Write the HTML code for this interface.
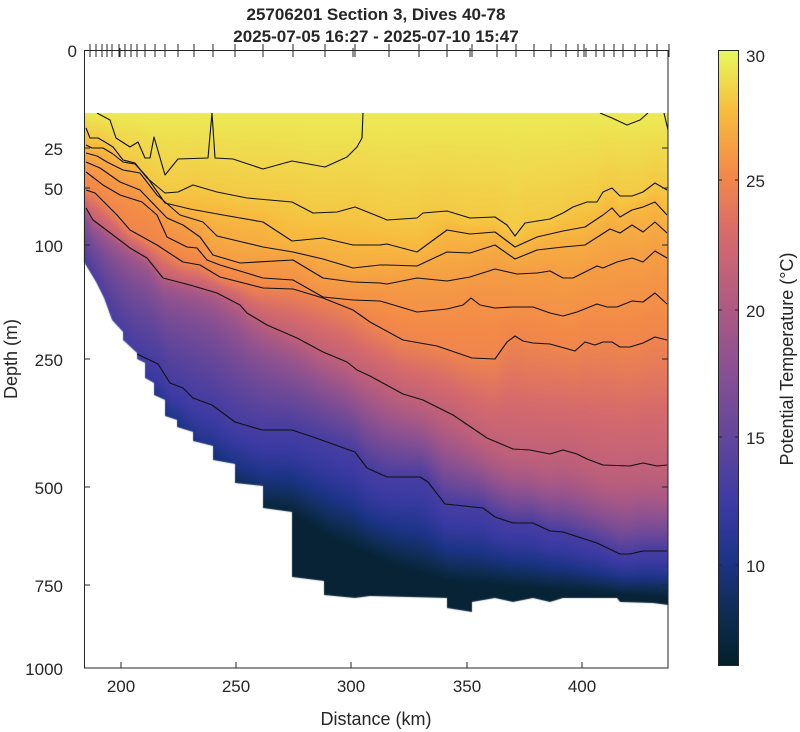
<!DOCTYPE html>
<html><head><meta charset="utf-8"><style>
html,body{margin:0;padding:0;background:#fff;}
#wrap{position:relative;width:800px;height:732px;}
canvas,svg{position:absolute;left:0;top:0;display:block;}
svg{font-family:"Liberation Sans",Arial,sans-serif;}
</style></head><body>
<div id="wrap">
<canvas id="cv" width="800" height="732"></canvas>
<svg width="800" height="732" viewBox="0 0 800 732" xmlns="http://www.w3.org/2000/svg">
<defs>
<clipPath id="m"><polygon points="84,113 668,113 668,605 653,603 620,602 617,598 563,598 550,602 533,598 513,602 495,598 472,602 472,612 447,608 447,598 370,596 355,598 324,595 324,581 292,577 292,512 263,508 263,486 235,483 235,464 213,460 213,446 193,441 193,432 177,427 177,420 165,416 165,400 154,395 154,383 145,378 145,363 137,359 137,353 123,340 123,332 112,320 104,298 96,282 84,262"/></clipPath>
<linearGradient id="cb" x1="0" y1="1" x2="0" y2="0"><stop offset="0" stop-color="#04202c"/><stop offset="0.08" stop-color="#0e2c50"/><stop offset="0.17" stop-color="#1c3486"/><stop offset="0.26" stop-color="#3b3aa3"/><stop offset="0.38" stop-color="#66479a"/><stop offset="0.5" stop-color="#905290"/><stop offset="0.6" stop-color="#b45c80"/><stop offset="0.7" stop-color="#d66a6c"/><stop offset="0.8" stop-color="#f38a48"/><stop offset="0.9" stop-color="#f7bc3e"/><stop offset="1" stop-color="#e8f95c"/></linearGradient>
</defs>
<g clip-path="url(#m)" fill="none" stroke="#111" stroke-width="1.1" stroke-linejoin="round">
<polyline points="97,113 110,120 116,138 130,147 138,142 145,158 150,158 154,137 165,175 178,159 208,158 212,113 215,158 233,159 263,169 292,161 325,167 347,157 357,147 362,138 363,113"/>
<polyline points="600,113 612,118 627,125 640,120 648,113"/>
<polyline points="664,113 668,130"/>
<polyline id="lB" points="86,128 90,138 98,138 105,142 113,147 123,160 135,163 147,178 165,193 178,192 193,185 217,192 247,198 292,202 313,213 337,212 355,207 370,213 380,217 387,220 417,218 423,213 447,211 470,218 495,217 507,225 515,236 525,223 550,219 563,213 573,207 587,202 597,202 603,192 612,188 620,196 632,196 643,192 655,183 667,190"/>
<polyline id="lC" points="86,145 92,148 103,148 113,154 123,162 135,164 147,177 165,203 190,209 223,215 263,222 292,241 323,238 353,245 380,245 387,244 417,252 447,230 470,234 495,232 515,247 537,237 563,231 585,227 603,215 612,208 620,217 632,210 643,207 655,202 667,215"/>
<polyline id="lD" points="86,153 97,156 107,162 123,170 140,173 157,195 180,215 203,222 217,236 263,247 293,252 323,259 353,268 380,265 387,265 417,266 447,252 470,253 495,245 515,259 537,250 563,247 585,245 610,229 620,233 632,225 643,232 655,222 667,233"/>
<polyline id="lE" points="86,162 100,168 120,182 140,190 167,218 183,225 200,237 213,255 240,263 293,260 323,278 353,282 380,283 387,284 417,278 447,281 470,277 495,269 517,274 537,273 550,271 563,278 573,278 597,266 603,268 617,262 632,258 643,262 655,251 667,258"/>
<polyline id="lF" points="86,172 90,175 103,185 120,195 142,202 157,215 167,237 187,247 197,248 207,260 220,265 263,278 293,280 323,297 353,300 380,301 387,303 417,312 447,309 463,305 471,298 480,305 495,308 513,307 533,307 550,313 563,316 577,312 597,304 607,307 617,307 632,301 643,302 655,293 667,304"/>
<polyline id="lG" points="86,190 95,193 107,205 117,215 130,230 157,245 183,262 200,265 220,277 263,288 293,289 323,298 353,310 370,322 403,340 437,346 472,358 495,359 507,342 515,336 523,341 533,343 550,344 575,351 585,342 595,345 603,342 612,342 620,347 630,347 643,343 655,337 667,340"/>
<polyline id="lH" points="86,208 93,220 113,235 130,248 147,258 163,278 190,285 217,293 240,305 247,313 267,325 297,338 323,352 347,362 357,370 370,376 403,394 423,400 453,415 487,438 513,449 530,450 550,454 563,450 577,454 587,459 603,465 630,466 643,463 657,466 667,465"/>
<polyline id="lI" points="137,354 158,364 170,383 183,388 193,398 212,405 235,422 262,430 292,430 313,437 355,452 367,468 387,477 420,477 428,482 445,504 483,508 495,517 513,523 533,523 550,531 563,532 597,543 620,554 630,554 643,551 667,551"/>
</g>
<g stroke="#262626" stroke-width="1" fill="none">
<rect x="84.5" y="50.5" width="583.5" height="617.5"/>
<path d="M84.5 148H90M84.5 188H90M84.5 245H90M84.5 359H90M84.5 487H90M84.5 585H90M668 148H662M668 188H662M668 245H662M668 359H662M668 487H662M668 585H662"/>
<path d="M121 668V662M236 668V662M351 668V662M467 668V662M582 668V662"/>
<path d="M90 44V57M96 44V57M102 44V57M107 44V57M112 44V57M119 44V57M120 48V57M125 44V57M131 44V57M137 44V57M145 44V57M155 44V57M165 44V57M178 44V57M194 44V57M213 44V57M235 44V57M263 44V57M293 44V57M325 44V57M353 48V57M355 44V57M389 44V57M419 44V57M447 44V57M470 48V57M472 44V57M497 44V57M516 44V57M534 44V57M551 44V57M566 44V57M578 44V57M584 44V57M586 48V57M596 44V57M604 44V57M614 44V57M623 44V57M635 44V57M647 44V57M657 44V57M669 44V57"/>
</g>
<g font-size="17" fill="#262626">
<text x="376" y="20" text-anchor="middle" font-weight="bold">25706201 Section 3, Dives 40-78</text>
<text x="376" y="42" text-anchor="middle" font-weight="bold">2025-07-05 16:27 - 2025-07-10 15:47</text>
<g text-anchor="end">
<text x="77" y="57">0</text><text x="63" y="155">25</text><text x="63" y="195">50</text><text x="63" y="252">100</text><text x="63" y="366">250</text><text x="63" y="494">500</text><text x="63" y="592">750</text><text x="63" y="675">1000</text>
</g>
<g text-anchor="middle">
<text x="121" y="692">200</text><text x="236" y="692">250</text><text x="351" y="692">300</text><text x="467" y="692">350</text><text x="582" y="692">400</text>
</g>
<text x="376" y="725" text-anchor="middle" font-size="18">Distance (km)</text>
<text transform="translate(17,359) rotate(-90)" text-anchor="middle" font-size="18">Depth (m)</text>
</g>
<rect x="718.5" y="50.5" width="20" height="615" fill="url(#cb)" stroke="#262626"/>
<g stroke="#262626"><path d="M718.5 180H722M735 180H738.5M718.5 310H722M735 310H738.5M718.5 437H722M735 437H738.5M718.5 565H722M735 565H738.5"/></g>
<g font-size="17" fill="#262626">
<text x="746" y="62">30</text><text x="746" y="187">25</text><text x="746" y="317">20</text><text x="746" y="444">15</text><text x="746" y="572">10</text>
<text transform="translate(793,359) rotate(-90)" text-anchor="middle" font-size="18">Potential Temperature (°C)</text>
</g>
</svg>
</div>
<script>
(function(){
function pts(id){return document.getElementById(id).getAttribute('points').trim().split(/\s+/).map(function(p){return p.split(',').map(Number);});}
var L=[
 {p:[[84,113],[668,113]],t:29.6},
 {p:pts('lB'),t:28.3},
 {p:pts('lC'),t:27.6},
 {p:pts('lD'),t:27.0},
 {p:pts('lE'),t:26.3},
 {p:pts('lF'),t:25.7},
 {p:pts('lG'),t:25.0},
 {p:pts('lH'),t:21.4},
 {p:[[84,262],[112,320],[123,336],[137,354]].concat(pts('lI')),t:13.0,pwL:0.55,pwR:1.7},
 {p:[[84,330],[137,410],[200,478],[263,510],[292,514],[330,538],[400,568],[450,582],[550,590],[668,598]],t:6.5,pwL:1.4,pwR:1.5}
];
function yAt(p,x){if(x<=p[0][0])return p[0][1];for(var i=1;i<p.length;i++){if(x<=p[i][0]){var a=p[i-1],b=p[i];return a[1]+(b[1]-a[1])*(x-a[0])/(b[0]-a[0]);}}return p[p.length-1][1];}
var S=[[0,[4,32,44]],[0.08,[14,44,80]],[0.17,[28,52,134]],[0.26,[59,58,163]],[0.38,[102,71,154]],[0.5,[144,82,144]],[0.6,[180,92,128]],[0.7,[214,106,108]],[0.8,[243,138,72]],[0.9,[247,188,62]],[1,[232,249,92]]];
function cm(T){var f=(T-6)/24.2;if(f<0)f=0;if(f>1)f=1;for(var i=1;i<S.length;i++){if(f<=S[i][0]){var a=S[i-1],b=S[i],u=(f-a[0])/(b[0]-a[0]);return [a[1][0]+(b[1][0]-a[1][0])*u,a[1][1]+(b[1][1]-a[1][1])*u,a[1][2]+(b[1][2]-a[1][2])*u];}}return S[S.length-1][1];}
var cv=document.getElementById('cv'),ctx=cv.getContext('2d');
var x0=84,x1=669,y0=113,y1=616,W=x1-x0,H=y1-y0;
var img=ctx.createImageData(W,H),d=img.data;
for(var xi=0;xi<W;xi++){
 var x=x0+xi+0.5,ys=[];
 var u=Math.min(1,Math.max(0,(x-200)/350));
 for(var k=0;k<L.length;k++)ys.push(yAt(L[k].p,x));
 for(var k2=1;k2<ys.length;k2++){if(ys[k2]<ys[k2-1]+0.5)ys[k2]=ys[k2-1]+0.5;}
 for(var yi=0;yi<H;yi++){
  var y=y0+yi+0.5,T;
  if(y<=ys[0])T=L[0].t;else if(y>=ys[ys.length-1])T=L[L.length-1].t;
  else{for(var j=1;j<ys.length;j++){if(y<=ys[j]){var f=(y-ys[j-1])/(ys[j]-ys[j-1]);if(L[j].pwL){var pw=L[j].pwL+(L[j].pwR-L[j].pwL)*u;f=Math.pow(f,pw);}T=L[j-1].t+(L[j].t-L[j-1].t)*f;break;}}}
  var c=cm(T),o=(yi*W+xi)*4;d[o]=c[0];d[o+1]=c[1];d[o+2]=c[2];d[o+3]=255;
 }
}
var off=document.createElement('canvas');off.width=W;off.height=H;off.getContext('2d').putImageData(img,0,0);
var mp=document.querySelector('#m polygon').getAttribute('points').trim().split(/\s+/).map(function(p){return p.split(',').map(Number);});
ctx.save();ctx.beginPath();ctx.moveTo(mp[0][0],mp[0][1]);for(var i=1;i<mp.length;i++)ctx.lineTo(mp[i][0],mp[i][1]);ctx.closePath();ctx.clip();
ctx.drawImage(off,x0,y0);ctx.restore();
})();
</script>
</body></html>
